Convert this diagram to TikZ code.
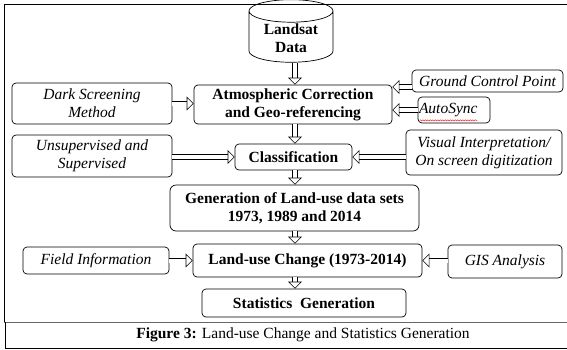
\documentclass[tikz,border=0pt]{standalone}
\usepackage{fontspec}
\setmainfont{Liberation Serif}
\usetikzlibrary{arrows.meta,shapes.geometric,decorations.pathmorphing,calc}

\newcommand{\txtsize}{\fontsize{15.5}{18}\selectfont}

\begin{document}
\begin{tikzpicture}[x=1pt, y=-1pt, line width=0.7pt,
  mainbox/.style={draw, rounded corners=4pt, align=center, font=\txtsize\bfseries, inner sep=1pt},
  sidebox/.style={draw, rounded corners=4pt, align=center, font=\txtsize\itshape, inner sep=1pt},
  hollow/.style={double, double distance=4pt, line width=0.6pt, -{Triangle[open, length=7pt, width=14pt]}}]
  \useasboundingbox (0,0) rectangle (567,349);

  % frame and caption strip
  \draw[line width=1pt] (4,322) -- (4,4) -- (572,4);
  \draw[line width=1pt, black!60] (4,322) -- (572,322);
  \draw[line width=1pt] (5,322) -- (5,348) -- (572,348);
  \node[font=\txtsize] (caption) at (303,335) {\textbf{Figure 3:} Land-use Change and Statistics Generation};

  % main column
  \node[cylinder, draw, shape border rotate=90, aspect=0.4, minimum width=84pt, minimum height=61pt,
        align=center, font=\txtsize\bfseries, inner sep=1pt] (data) at (291,38) {Landsat\\Data};
  \node[mainbox, minimum width=198pt, minimum height=39pt] (atmos) at (293,104.5) {Atmospheric Correction\\and Geo-referencing};
  \node[mainbox, minimum width=117pt, minimum height=26pt] (classif) at (293.5,157) {Classification};
  \node[mainbox, minimum width=249pt, minimum height=46pt, rounded corners=6pt] (gen) at (294.5,208) {Generation of Land-use data sets\\1973, 1989 and 2014};
  \node[mainbox, minimum width=229pt, minimum height=33pt] (luc) at (307.5,260.5) {Land-use Change (1973-2014)};
  \node[mainbox, minimum width=204pt, minimum height=28pt] (stats) at (304,303) {Statistics~ Generation};

  % inputs
  \node[sidebox, minimum width=160pt, minimum height=41pt] (dark) at (92,103.5) {Dark Screening\\Method};
  \node[sidebox, minimum width=151pt, minimum height=22pt] (gcp) at (487.5,81) {Ground Control Point};
  \node[sidebox, minimum width=72pt, minimum height=26pt, text width=70pt, align=left] (auto) at (454,110) {AutoSync};
  \node[sidebox, minimum width=160pt, minimum height=42pt] (unsup) at (92,156) {Unsupervised and\\Supervised};
  \node[sidebox, minimum width=156pt, minimum height=45pt] (visual) at (484,152.5) {Visual Interpretation/\\On screen digitization};
  \node[sidebox, minimum width=146pt, minimum height=27pt] (field) at (96,260.5) {Field Information};
  \node[sidebox, minimum width=114pt, minimum height=33pt] (gis) at (505,261.5) {GIS Analysis};

  \draw[red, line width=0.4pt, decorate, decoration={snake, amplitude=0.6pt, segment length=2.5pt}]
    ([xshift=2pt, yshift=3pt]auto.south west) -- ([xshift=-13pt, yshift=3pt]auto.south east);

  % flow down the column
  \coordinate (axis) at (295,0);
  \draw[hollow] (data.south -| axis) -- (atmos.north -| axis);
  \draw[hollow] (atmos.south -| axis) -- (classif.north -| axis);
  \draw[hollow] (classif.south -| axis) -- (gen.north -| axis);
  \draw[hollow] (gen.south -| axis) -- (luc.north -| axis);
  \draw[hollow] (luc.south -| axis) -- (stats.north -| axis);

  % side inputs
  \draw[hollow] (dark.east) -- (atmos.west |- dark.east);
  \draw[hollow] ([yshift=-6pt]gcp.west) -- ([yshift=-6pt]gcp.west -| atmos.east);
  \draw[hollow] (auto.west) -- (auto.west -| atmos.east);
  \draw[hollow] (unsup.east |- classif.west) -- (classif.west);
  \draw[hollow] (visual.west |- classif.east) -- (classif.east);
  \draw[hollow] (field.east) -- (field.east -| luc.west);
  \draw[hollow] (gis.west |- luc.east) -- (luc.east);
\end{tikzpicture}
\end{document}
